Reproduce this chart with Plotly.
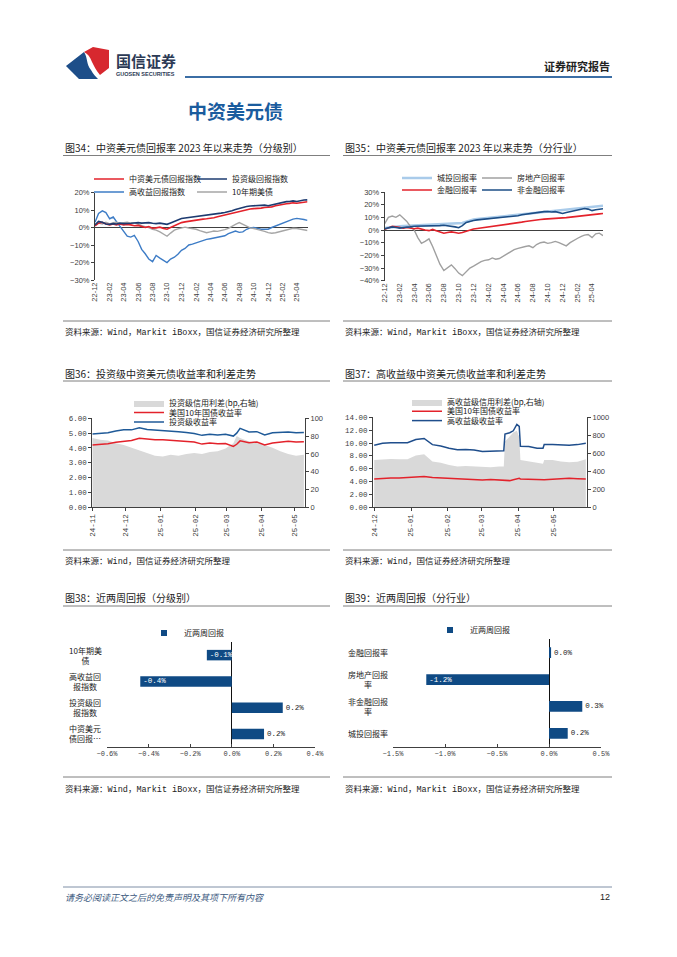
import plotly.graph_objects as go

W, H = 677, 957
OFF = 8  # the page body adds an 8px margin around the figure
def X(p): return (p - OFF) / W
def Y(p): return 1 - (p - OFF) / H

CJK = "Noto Sans CJK SC"
MONO = "Liberation Mono"
SANS = "Liberation Sans"
TXT = "#222222"
AX = "#404040"
NAVY = "#0f4a84"

# ---------------- data: return indices since 2023 (%), semi-monthly ----------------
ret_dates = [
    "2022-12-01", "2022-12-16",
    "2023-01-01", "2023-01-16", "2023-02-01", "2023-02-16", "2023-03-01", "2023-03-16",
    "2023-04-01", "2023-04-16", "2023-05-01", "2023-05-16", "2023-06-01", "2023-06-16",
    "2023-07-01", "2023-07-16", "2023-08-01", "2023-08-16", "2023-09-01", "2023-09-16",
    "2023-10-01", "2023-10-16", "2023-11-01", "2023-11-16", "2023-12-01", "2023-12-16",
    "2024-01-01", "2024-01-16", "2024-02-01", "2024-02-16", "2024-03-01", "2024-03-16",
    "2024-04-01", "2024-04-16", "2024-05-01", "2024-05-16", "2024-06-01", "2024-06-16",
    "2024-07-01", "2024-07-16", "2024-08-01", "2024-08-16", "2024-09-01", "2024-09-16",
    "2024-10-01", "2024-10-16", "2024-11-01", "2024-11-16", "2024-12-01", "2024-12-16",
    "2025-01-01", "2025-01-16", "2025-02-01", "2025-02-16", "2025-03-01", "2025-03-16",
    "2025-04-01", "2025-04-16", "2025-05-01", "2025-05-16",
]
ret_ticks = ["2022-12-01", "2023-02-01", "2023-04-01", "2023-06-01", "2023-08-01",
             "2023-10-01", "2023-12-01", "2024-02-01", "2024-04-01", "2024-06-01",
             "2024-08-01", "2024-10-01", "2024-12-01", "2025-02-01", "2025-04-01"]

# Fig 34 (by rating)
cn_usd = [1.0, 2.5, 3.0, 2.0, 1.5, 2.0, 1.5, 2.0, 1.5, 1.8, 1.5, 1.0, 1.2, 0.5, 0.0, 0.5,
          -0.4, -0.2, 0.2, -0.5, -1.0, 0.0, 1.0, 2.0, 2.8, 3.2, 3.6, 3.9, 4.2, 4.5, 4.8, 5.0,
          5.2, 5.6, 6.1, 6.6, 7.1, 7.6, 8.2, 8.8, 9.4, 9.9, 10.2, 10.6, 10.8, 10.8, 11.1, 11.4,
          11.4, 11.8, 12.4, 12.9, 13.3, 13.6, 13.8, 14.1, 13.9, 14.2, 14.5, 14.7]
ig_idx = [1.5, 3.5, 3.0, 2.0, 1.8, 2.2, 2.0, 2.5, 2.2, 2.5, 2.4, 2.6, 2.8, 2.5, 2.6, 2.8,
          2.4, 2.2, 2.5, 2.0, 1.8, 2.6, 3.6, 4.5, 5.1, 5.4, 5.7, 5.9, 6.1, 6.3, 6.6, 6.8,
          7.0, 7.3, 7.7, 8.2, 8.6, 9.0, 9.6, 10.3, 11.0, 11.6, 12.0, 12.3, 12.4, 12.2, 12.6, 12.8,
          12.4, 12.9, 13.4, 14.0, 14.5, 14.8, 14.9, 15.2, 14.9, 15.4, 15.7, 15.8]
hy_idx = [3.0, 8.0, 9.5, 8.5, 5.0, 6.0, 3.5, 0.5, -2.0, -5.0, -5.5, -4.5, -8.0, -12.5, -15.0, -18.0,
          -19.5, -16.0, -17.5, -19.0, -20.0, -18.0, -17.0, -15.3, -13.0, -12.0, -10.0, -9.5, -8.7, -7.8, -7.2, -6.8,
          -6.4, -6.0, -5.7, -5.2, -4.7, -3.5, -2.8, -2.0, -2.8, -2.5, -1.0, -0.2, 0.0, -0.6, -1.0, -1.0,
          -1.0, 0.0, 0.8, 1.6, 2.4, 3.2, 4.2, 4.8, 5.2, 5.0, 4.6, 4.1]
ust10 = [1.5, 2.5, 2.0, 3.0, 2.0, 2.8, 3.0, 2.2, 2.8, 3.0, 2.5, 2.8, 2.0, 1.0, 0.5, 0.0,
         -1.0, -1.5, -2.5, -4.0, -5.0, -3.2, -1.5, -0.8, -0.2, 0.2, -0.3, -0.6, -1.0, -1.8, -2.6, -3.0,
         -2.5, -2.0, -2.2, -1.8, -1.2, -0.5, 0.8, 1.8, 2.8, 1.8, 0.5, -0.2, -0.6, -1.0, -1.5, -2.2,
         -2.9, -3.3, -3.0, -2.5, -2.0, -1.4, -0.8, -0.4, -0.6, -1.0, -1.4, -1.7]

# Fig 35 (by sector)
lgfv = [1.5, 2.0, 2.5, 2.8, 3.0, 3.2, 3.3, 3.5, 3.5, 3.6, 3.8, 4.0, 4.0, 4.2, 4.3, 4.5,
        4.5, 4.7, 4.8, 5.0, 5.0, 5.5, 6.5, 7.5, 8.2, 8.6, 9.0, 9.3, 9.6, 9.9, 10.2, 10.5,
        10.8, 11.1, 11.4, 11.7, 12.0, 12.4, 12.8, 13.2, 13.6, 14.0, 14.3, 14.6, 14.9, 15.1, 15.3, 15.5,
        15.7, 16.0, 16.4, 16.8, 17.2, 17.5, 17.8, 18.1, 18.3, 18.6, 18.9, 19.2]
realestate = [5.0, 10.0, 11.0, 10.0, 12.0, 9.0, 7.0, 3.0, 0.0, -6.0, -10.5, -9.0, -7.0, -13.0, -20.0, -27.0,
              -32.0, -29.5, -27.5, -30.5, -34.0, -36.0, -33.0, -30.0, -28.5, -26.5, -25.0, -24.0, -23.5, -22.0, -23.0, -22.5,
              -20.5, -19.0, -17.0, -15.5, -14.5, -13.5, -13.0, -12.5, -14.0, -11.5, -10.0, -9.5, -10.5, -10.0, -9.0, -10.0,
              -11.0, -12.5, -10.0, -8.0, -6.5, -5.0, -4.0, -3.5, -6.0, -3.0, -2.5, -4.5]
financial = [0.5, 2.0, 3.0, 2.5, 2.0, 1.5, 2.0, 1.5, 1.0, 1.5, 0.5, 0.0, -0.5, 0.5, -0.5, -1.5,
             -2.5, -2.0, -1.5, -2.0, -2.5, -2.0, -1.0, 0.0, 0.8, 1.2, 1.6, 2.0, 2.4, 2.8, 3.2, 3.6,
             4.0, 4.3, 4.8, 5.3, 5.8, 6.2, 6.7, 7.2, 7.7, 8.0, 8.3, 8.6, 8.9, 9.1, 9.3, 9.5,
             9.6, 9.8, 10.2, 10.6, 11.0, 11.3, 11.6, 11.9, 12.1, 12.4, 12.7, 13.0]
nonfin = [1.0, 2.0, 2.5, 2.0, 1.5, 2.0, 2.5, 2.5, 3.0, 3.0, 3.2, 3.0, 3.3, 3.5, 3.2, 3.5,
          3.8, 3.5, 3.2, 2.5, 1.8, 3.5, 6.0, 7.0, 7.5, 8.0, 8.3, 8.5, 8.8, 9.2, 9.5, 9.8,
          10.2, 10.5, 10.8, 11.0, 11.3, 12.0, 12.5, 13.0, 13.5, 14.0, 14.3, 14.5, 14.6, 14.2, 14.5, 13.5,
          13.0, 13.8, 14.5, 15.5, 16.0, 16.5, 17.0, 16.5, 15.3, 16.0, 16.5, 16.8]

# Fig 36 (investment grade)
ig_dates = ["2024-11-01", "2024-11-08", "2024-11-15", "2024-11-22", "2024-11-29", "2024-12-06",
            "2024-12-13", "2024-12-20", "2024-12-27", "2025-01-03", "2025-01-10", "2025-01-17",
            "2025-01-24", "2025-01-31", "2025-02-07", "2025-02-14", "2025-02-21", "2025-02-28",
            "2025-03-07", "2025-03-10", "2025-03-13", "2025-03-21", "2025-03-28", "2025-04-04",
            "2025-04-11", "2025-04-18", "2025-04-25", "2025-05-02", "2025-05-09"]
ig_ticks = ["2024-11-01", "2024-12-01", "2025-01-01", "2025-02-01", "2025-03-01", "2025-04-01", "2025-05-01"]
ig_spread = [78, 76, 75, 72, 70, 67, 64, 61, 58, 57, 59, 58, 60, 61, 60, 62, 63, 66,
             72, 80, 78, 74, 72, 70, 67, 63, 60, 58, 59]
ust10_ig = [4.20, 4.22, 4.28, 4.38, 4.44, 4.50, 4.66, 4.60, 4.56, 4.55, 4.52, 4.48, 4.42, 4.40,
            4.26, 4.33, 4.28, 4.30, 4.10, 4.25, 4.48, 4.36, 4.40, 4.20, 4.34, 4.40, 4.46, 4.40, 4.42]
ig_yield = [4.95, 4.98, 5.02, 5.15, 5.22, 5.22, 5.36, 5.25, 5.22, 5.18, 5.12, 5.10, 5.05, 4.98,
            4.85, 4.92, 4.88, 4.92, 4.80, 5.00, 5.32, 5.08, 5.10, 4.88, 5.02, 5.05, 5.08, 5.02, 5.05]

# Fig 37 (high yield)
hy_dates = ["2024-12-01", "2024-12-08", "2024-12-15", "2024-12-22", "2024-12-29", "2025-01-05",
            "2025-01-12", "2025-01-19", "2025-01-26", "2025-02-02", "2025-02-09", "2025-02-16",
            "2025-02-23", "2025-03-02", "2025-03-09", "2025-03-16", "2025-03-20", "2025-03-21",
            "2025-03-25", "2025-03-28", "2025-03-31", "2025-04-02", "2025-04-03", "2025-04-10",
            "2025-04-17", "2025-04-22", "2025-04-23", "2025-04-30", "2025-05-07", "2025-05-14",
            "2025-05-21", "2025-05-28"]
hy_ticks = ["2024-12-01", "2025-01-01", "2025-02-01", "2025-03-01", "2025-04-01", "2025-05-01"]
hy_spread = [526, 533, 537, 533, 533, 575, 590, 510, 496, 470, 452, 460, 452, 444, 444, 452,
             452, 730, 785, 830, 850, 780, 526, 510, 490, 485, 526, 526, 510, 500, 505, 533]
ust10_hy = [4.41, 4.51, 4.56, 4.56, 4.65, 4.80, 4.78, 4.62, 4.56, 4.50, 4.46, 4.41, 4.25, 4.25,
            4.33, 4.30, 4.28, 4.20, 4.15, 4.30, 4.45, 4.50, 4.40, 4.35, 4.30, 4.28, 4.30, 4.35,
            4.45, 4.50, 4.45, 4.42]
hy_yield = [9.65, 9.95, 10.05, 10.05, 10.05, 10.55, 10.70, 9.75, 9.55, 9.20, 8.95, 9.00, 8.92, 8.68,
            8.76, 8.76, 8.80, 11.40, 11.60, 11.90, 12.90, 12.60, 9.50, 9.45, 9.20, 9.20, 9.75, 9.75,
            9.65, 9.65, 9.75, 9.95]

# Fig 38 / 39 (two-week returns, %)
cats38 = ["10年期美债", "高收益回报指数", "投资级回报指数", "中资美元债回报指数"]
labels38 = ["10年期美<br>债", "高收益回<br>报指数", "投资级回<br>报指数", "中资美元<br>债回报…"]
vals38 = [-0.12, -0.44, 0.245, 0.155]
cats39 = ["金融回报率", "房地产回报率", "非金融回报率", "城投回报率"]
labels39 = ["金融回报率", "房地产回报<br>率", "非金融回报<br>率", "城投回报率"]
vals39 = [0.02, -1.18, 0.32, 0.18]

# ---------------- figure ----------------
fig = go.Figure()

def line(x, y, name, color, width, xa, ya, leg):
    return go.Scatter(x=x, y=y, name=name, mode="lines", line=dict(color=color, width=width),
                      xaxis=xa, yaxis=ya, legend=leg, hoverinfo="skip")

# Fig 34
fig.add_trace(line(ret_dates, hy_idx, "高收益回报指数", "#3d7cc6", 1.4, "x", "y", "legend3"))
fig.add_trace(line(ret_dates, ust10, "10年期美债", "#a6a6a6", 1.4, "x", "y", "legend4"))
fig.add_trace(line(ret_dates, cn_usd, "中资美元债回报指数", "#e3222b", 1.6, "x", "y", "legend"))
fig.add_trace(line(ret_dates, ig_idx, "投资级回报指数", "#1d3b70", 1.6, "x", "y", "legend2"))
# Fig 35
fig.add_trace(line(ret_dates, lgfv, "城投回报率", "#a9cbea", 2.6, "x2", "y2", "legend5"))
fig.add_trace(line(ret_dates, realestate, "房地产回报率", "#a0a0a0", 1.4, "x2", "y2", "legend6"))
fig.add_trace(line(ret_dates, financial, "金融回报率", "#e3222b", 1.6, "x2", "y2", "legend7"))
fig.add_trace(line(ret_dates, nonfin, "非金融回报率", "#1d4e86", 1.6, "x2", "y2", "legend8"))
# Fig 36
fig.add_trace(go.Scatter(x=ig_dates, y=ig_spread, name="投资级信用利差(bp,右轴)", mode="lines",
                         fill="tozeroy", fillcolor="#d9d9d9", line=dict(width=0, color="#d9d9d9"),
                         xaxis="x3", yaxis="y3", legend="legend9", hoverinfo="skip"))
fig.add_trace(line(ig_dates, ust10_ig, "美国10年国债收益率", "#e3222b", 1.5, "x3", "y4", "legend10"))
fig.add_trace(line(ig_dates, ig_yield, "投资级收益率", "#1f5a98", 1.5, "x3", "y4", "legend11"))
# Fig 37
fig.add_trace(go.Scatter(x=hy_dates, y=hy_spread, name="高收益级信用利差(bp,右轴)", mode="lines",
                         fill="tozeroy", fillcolor="#d9d9d9", line=dict(width=0, color="#d9d9d9"),
                         xaxis="x4", yaxis="y5", legend="legend12", hoverinfo="skip"))
fig.add_trace(line(hy_dates, ust10_hy, "美国10年国债收益率", "#e3222b", 1.5, "x4", "y6", "legend13"))
fig.add_trace(line(hy_dates, hy_yield, "高收益级收益率", "#1f4e8c", 1.5, "x4", "y6", "legend14"))

# Fig 38 / 39 bars
def bars(vals, cats, xa, ya):
    pos = ["inside" if v < 0 else "outside" for v in vals]
    return go.Bar(x=vals, y=cats, orientation="h", marker=dict(color=NAVY, line=dict(width=0)),
                  texttemplate="%{x:.1f}%", textposition=pos, insidetextanchor="end",
                  insidetextfont=dict(color="white", size=7.5, family=MONO),
                  outsidetextfont=dict(color=TXT, size=7.5, family=MONO),
                  constraintext="none", cliponaxis=False, showlegend=False,
                  xaxis=xa, yaxis=ya, hoverinfo="skip")

fig.add_trace(bars(vals38, cats38, "x5", "y7"))
fig.add_trace(go.Scatter(x=[None], y=[None], mode="markers", name="近两周回报",
                         marker=dict(symbol="square", size=6, color=NAVY),
                         xaxis="x5", yaxis="y7", legend="legend15", hoverinfo="skip"))
fig.add_trace(bars(vals39, cats39, "x6", "y8"))
fig.add_trace(go.Scatter(x=[None], y=[None], mode="markers", name="近两周回报",
                         marker=dict(symbol="square", size=6, color=NAVY),
                         xaxis="x6", yaxis="y8", legend="legend16", hoverinfo="skip"))

# ---------------- axes ----------------
def tf(size=7.5, family=SANS):
    return dict(size=size, family=family, color=AX)

base = dict(showgrid=False, fixedrange=True, automargin=False)

# Fig 34
y34 = (-30, 20)
d34y = [Y(280), Y(192.5)]
fig.update_layout(
    xaxis=dict(base, domain=[X(95), X(307.5)], type="date", range=["2022-12-01", "2025-05-16"],
               tickvals=ret_ticks, tickformat="%y-%m", tickangle=-90, tickfont=tf(),
               showline=False, ticks="", zeroline=False, anchor="y"),
    yaxis=dict(base, domain=d34y, range=list(y34), dtick=10, tick0=0, ticksuffix="%",
               showline=True, linecolor=AX, linewidth=1, ticks="outside", ticklen=3,
               tickcolor=AX, tickfont=tf(), zeroline=True, zerolinecolor=AX,
               zerolinewidth=1, anchor="x"),
    xaxis7=dict(base, overlaying="x", anchor="free",
                position=d34y[0] + (0 - y34[0]) / (y34[1] - y34[0]) * (d34y[1] - d34y[0]),
                type="date", range=["2022-12-01", "2025-05-16"], tickvals=ret_ticks,
                ticks="outside", ticklen=3, tickcolor=AX, showticklabels=False,
                showline=False, zeroline=False),
)
# Fig 35
y35 = (-40, 30)
d35y = [Y(280.7), Y(192)]
fig.update_layout(
    xaxis2=dict(base, domain=[X(384.7), X(603)], type="date", range=["2022-12-01", "2025-05-16"],
                tickvals=ret_ticks, tickformat="%y-%m", tickangle=-90, tickfont=tf(),
                showline=False, ticks="", zeroline=False, anchor="y2"),
    yaxis2=dict(base, domain=d35y, range=list(y35), dtick=10, tick0=0, ticksuffix="%",
                showline=True, linecolor=AX, linewidth=1, ticks="outside", ticklen=3,
                tickcolor=AX, tickfont=tf(), zeroline=True, zerolinecolor=AX,
                zerolinewidth=1, anchor="x2"),
    xaxis8=dict(base, overlaying="x2", anchor="free",
                position=d35y[0] + (0 - y35[0]) / (y35[1] - y35[0]) * (d35y[1] - d35y[0]),
                type="date", range=["2022-12-01", "2025-05-16"], tickvals=ret_ticks,
                ticks="outside", ticklen=3, tickcolor=AX, showticklabels=False,
                showline=False, zeroline=False),
)
# Fig 36
fig.update_layout(
    xaxis3=dict(base, domain=[X(92.3), X(305)], type="date", range=["2024-11-01", "2025-05-10"],
                tickvals=ig_ticks, tickformat="%y-%m", tickangle=-90, tickfont=tf(7.5, MONO),
                showline=True, linecolor=AX, ticks="outside", ticklen=3, tickcolor=AX,
                zeroline=False, anchor="y3"),
    yaxis3=dict(base, domain=[Y(507.3), Y(418.3)], range=[0, 100], dtick=20, side="right",
                showline=True, linecolor=AX, ticks="outside", ticklen=3, tickcolor=AX,
                tickfont=tf(7.5), zeroline=False, anchor="x3"),
    yaxis4=dict(base, overlaying="y3", side="left", range=[0, 6], dtick=1, tickformat=".2f",
                showline=True, linecolor=AX, ticks="outside", ticklen=3, tickcolor=AX,
                tickfont=tf(7.5, MONO), zeroline=False, anchor="x3"),
)
# Fig 37
fig.update_layout(
    xaxis4=dict(base, domain=[X(373), X(587)], type="date", range=["2024-11-30", "2025-05-29"],
                tickvals=hy_ticks, tickformat="%y-%m", tickangle=-90, tickfont=tf(7.5, MONO),
                showline=True, linecolor=AX, ticks="outside", ticklen=3, tickcolor=AX,
                zeroline=False, anchor="y5"),
    yaxis5=dict(base, domain=[Y(507.3), Y(417.3)], range=[0, 1000], dtick=200, side="right",
                showline=True, linecolor=AX, ticks="outside", ticklen=3, tickcolor=AX,
                tickfont=tf(7.5), zeroline=False, anchor="x4"),
    yaxis6=dict(base, overlaying="y5", side="left", range=[0, 14], dtick=2, tickformat=".2f",
                showline=True, linecolor=AX, ticks="outside", ticklen=3, tickcolor=AX,
                tickfont=tf(7.5, MONO), zeroline=False, anchor="x4"),
)
# Fig 38 / 39
def bar_axes(xd, yd, xr, dt):
    xa = dict(base, domain=xd, range=xr, dtick=dt, tick0=0, tickformat=".1f", ticksuffix="%",
              showline=True, linecolor=AX, ticks="inside", ticklen=3, tickcolor=AX,
              tickfont=tf(7, MONO), zeroline=True, zerolinecolor="#111111", zerolinewidth=1)
    ya = dict(base, domain=yd, type="category", range=[3.5, -0.5], showticklabels=False,
              showline=False, ticks="", zeroline=False)
    zpos = xd[0] + (0 - xr[0]) / (xr[1] - xr[0]) * (xd[1] - xd[0])
    yz = dict(base, anchor="free", position=zpos, side="right", type="linear",
              range=[3.5, -0.5], tickvals=[-0.5, 0.5, 1.5, 2.5, 3.5], ticks="outside",
              ticklen=3, tickcolor="#111111", showticklabels=False, showline=True,
              linecolor="#111111", linewidth=1, zeroline=False)
    return xa, ya, yz

xa5, ya7, ya9 = bar_axes([X(107), X(315)], [Y(747), Y(642)], [-0.6, 0.4], 0.2)
xa6, ya8, ya10 = bar_axes([X(393), X(601)], [Y(746.7), Y(639.3)], [-1.5, 0.5], 0.5)
xa5.update(anchor="y7"); ya7.update(anchor="x5"); ya9.update(overlaying="y7")
xa6.update(anchor="y8"); ya8.update(anchor="x6"); ya10.update(overlaying="y8")
fig.update_layout(xaxis5=xa5, yaxis7=ya7, yaxis9=ya9, xaxis6=xa6, yaxis8=ya8, yaxis10=ya10)

# ---------------- legends (one entry each, placed like the original) ----------------
def leg(x, y):
    return dict(x=X(x), y=Y(y), xanchor="left", yanchor="middle", orientation="h",
                bgcolor="rgba(0,0,0,0)", borderwidth=0, font=dict(size=8, family=CJK, color=TXT),
                tracegroupgap=0, itemclick=False, itemdoubleclick=False)

fig.update_layout(
    legend=leg(89, 179), legend2=leg(192, 179), legend3=leg(89, 192), legend4=leg(192, 192),
    legend5=leg(397, 178), legend6=leg(477, 178), legend7=leg(397, 190), legend8=leg(477, 190),
    legend9=leg(129, 403), legend10=leg(129, 412.5), legend11=leg(129, 422),
    legend12=leg(407, 402), legend13=leg(407, 411.3), legend14=leg(407, 420.6),
    legend15=leg(144, 633), legend16=leg(430, 630),
)

# ---------------- page text & decorations ----------------
ann = []
def txt(x, y, s, size, color=TXT, family=CJK, anchor="left"):
    ann.append(dict(x=X(x), y=Y(y), xref="paper", yref="paper", text=s,
                    showarrow=False, xanchor=anchor, yanchor="middle",
                    font=dict(size=size, color=color, family=family)))

shapes = []
def hline(x0, x1, y, color="#7f7f7f", width=1):
    shapes.append(dict(type="line", xref="paper", yref="paper", x0=X(x0), x1=X(x1),
                       y0=Y(y), y1=Y(y), line=dict(color=color, width=width)))

def path(cmds, color):
    s = ""
    for c in cmds:
        if isinstance(c, str):
            s += c + " "
        else:
            s += f"{X(c[0]):.5f},{Y(c[1]):.5f} "
    shapes.append(dict(type="path", xref="paper", yref="paper", path=s.strip(),
                       fillcolor=color, line=dict(width=0)))

# logo
path(["M", (66, 66), "L", (84, 52), "C", (88, 58), (86, 64), (91, 70), "C", (93, 74), (96, 77), (98, 79),
      "L", (79, 79), "Z"], "#1d4e89")
path(["M", (84, 52), "L", (93, 47), "L", (109, 50), "L", (109, 68), "L", (100, 75), "C", (96, 70), (94, 66),
      (92, 62), "C", (90, 57), (88, 54), (84, 52), "Z"], "#d7282f")
txt(114, 60, "<b>国信证券</b>", 15, "#2c3a55")
txt(114, 73.5, "<b>GUOSEN SECURITIES</b>", 5.5, "#2c3a55", SANS)
txt(612, 66, "<b>证券研究报告</b>", 11, TXT, CJK, "right")
hline(185, 612, 77, "#3b6ea5", 2)
txt(186, 111, "<b>中资美元债</b>", 19, "#1a5c9e")

# chart titles, rules, sources
src1 = "资料来源：Wind，Markit iBoxx，国信证券经济研究所整理"
src2 = "资料来源：Wind，国信证券经济研究所整理"
blocks = [
    (63, 330, 147, 155.5, 321, 333, "图34：中资美元债回报率 2023 年以来走势（分级别）", src1),
    (343, 612, 147, 155.5, 321, 333, "图35：中资美元债回报率 2023 年以来走势（分行业）", src1),
    (63, 330, 373, 381, 550, 561, "图36：投资级中资美元债收益率和利差走势", src2),
    (343, 612, 373, 381, 550, 561, "图37：高收益级中资美元债收益率和利差走势", src2),
    (63, 330, 597, 606, 777, 789, "图38：近两周回报（分级别）", src1),
    (343, 612, 597, 606, 777, 789, "图39：近两周回报（分行业）", src1),
]
for x0, x1, ty, ly, sy, st, title, src in blocks:
    txt(x0, ty, title, 10)
    hline(x0, x1, ly)
    hline(x0, x1, sy)
    txt(x0, st, src, 8.5, TXT, f"{MONO}, {CJK}")

# bar category labels
for c, lab in zip(cats38, labels38):
    ann.append(dict(x=X(85), y=c, xref="paper", yref="y7", text=lab, showarrow=False,
                    xanchor="center", yanchor="middle", align="center",
                    font=dict(size=8, color=TXT, family=CJK)))
for c, lab in zip(cats39, labels39):
    ann.append(dict(x=X(368), y=c, xref="paper", yref="y8", text=lab, showarrow=False,
                    xanchor="center", yanchor="middle", align="center",
                    font=dict(size=8, color=TXT, family=CJK)))

# footer
hline(63, 612, 887, "#7f8fa6", 1)
txt(63, 897, "<i>请务必阅读正文之后的免责声明及其项下所有内容</i>", 9, "#3d5a80")
txt(612, 897, "12", 9, TXT, SANS, "right")

fig.update_layout(
    width=W, height=H, margin=dict(l=0, r=0, t=0, b=0, pad=0, autoexpand=False),
    paper_bgcolor="white", plot_bgcolor="rgba(0,0,0,0)",
    bargap=0.6, annotations=ann, shapes=shapes, hovermode=False,
    font=dict(family=CJK, color=TXT),
)

fig.write_html("out.html")
